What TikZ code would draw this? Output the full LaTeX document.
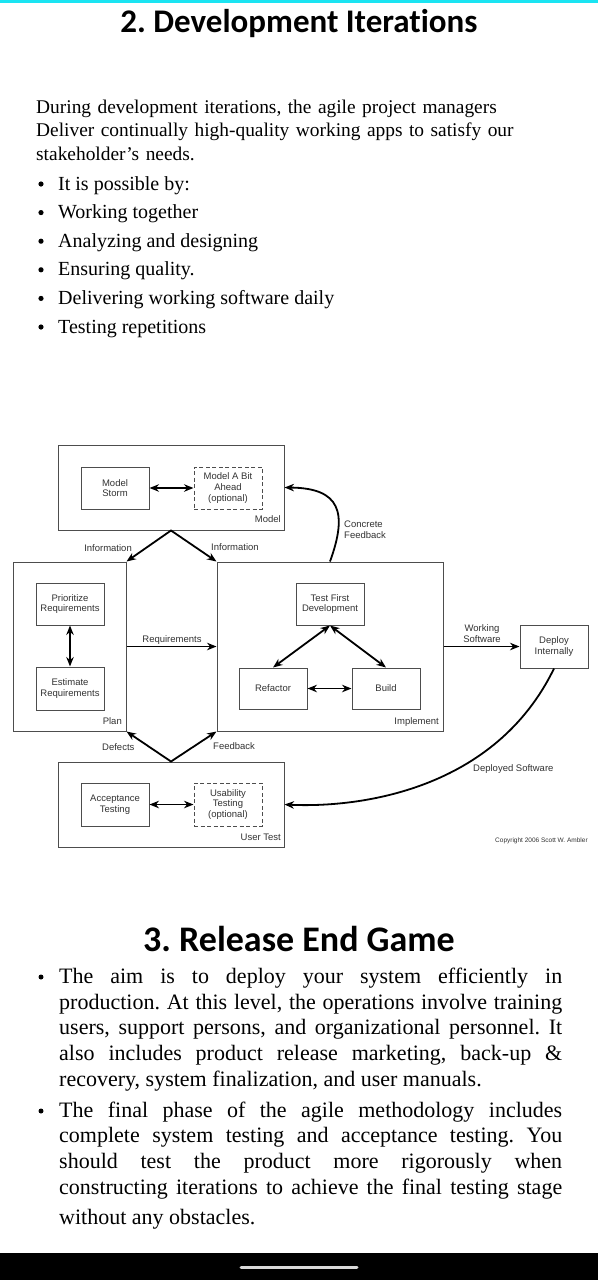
\documentclass[tikz,border=0pt]{standalone}
\usepackage{fontspec}
\setmainfont{Liberation Serif}
\newfontfamily\headfont{Carlito}[Ligatures=NoCommon]
\newfontfamily\chartfont{Liberation Sans}
\usetikzlibrary{calc, arrows.meta}

\definecolor{screencyan}{HTML}{1AE4F2}
\definecolor{linegray}{HTML}{4D4D4D}
\definecolor{labelgray}{HTML}{333333}

\hyphenpenalty=10000
\exhyphenpenalty=10000
\tolerance=9999
\hbadness=10000
\frenchspacing

\begin{document}
\begin{tikzpicture}[x=1pt, y=1pt, >={Stealth[length=9.5pt, width=7.5pt]},
		stage/.style={draw=linegray, line width=1pt, inner sep=0pt},
		task/.style={draw=linegray, line width=1pt, minimum width=68pt, minimum height=42pt, inner sep=1pt, align=center, text=labelgray, font=\chartfont\fontsize{9.5}{10.7}\selectfont},
		optional/.style={task, dash pattern=on 4pt off 2.5pt},
		tag/.style={inner sep=0pt, text=labelgray, font=\chartfont\fontsize{9.5}{10.7}\selectfont},
		flow/.style={line width=1.8pt, ->},
		swap/.style={line width=1.8pt, <->},
		body/.style={inner sep=0pt, anchor=base west, font=\fontsize{20}{23.5}\selectfont},
		para/.style={inner sep=0pt, anchor=base west, text width=503pt, align=justify, font=\fontsize{22}{25.7}\selectfont},
		heading/.style={inner sep=0pt, anchor=base, font=\headfont\bfseries\fontsize{33}{38}\selectfont},
	]
	\def\rowstep{28.6}

	\useasboundingbox (0,0) rectangle (598,-1280);
	\fill[white] (0,0) rectangle (598,-1280);
	\fill[screencyan] (0,0) rectangle (598,-2.7);

	\node[heading] (title1) at (299,-32.3) {2. Development Iterations};

	\node[body, text width=540pt, align=left, font=\fontsize{19.4}{23.5}\selectfont] (intro) at (36,-113.3)
		{During development iterations, the agile project managers\\Deliver continually high-quality working apps to satisfy our\\stakeholder’s needs.};

	\foreach \txt [count=\i] in {It is possible by:, Working together, Analyzing and designing, Ensuring quality., Delivering working software daily, Testing repetitions}
	{
		\fill (41,{-184-\rowstep*(\i-1)}) circle (2.6pt);
		\node[body] (point\i) at (58,{-190-\rowstep*(\i-1)}) {\txt};
	}

	\begin{scope}
		\node[stage, minimum width=226pt, minimum height=85pt] (model) at (171,-487.5) {};
		\node[stage, minimum width=113pt, minimum height=169pt] (plan) at (69.5,-646.5) {};
		\node[stage, minimum width=226pt, minimum height=169pt] (implement) at (330,-646.5) {};
		\node[stage, minimum width=226pt, minimum height=85pt] (usertest) at (171,-804.5) {};
		\node[task, minimum height=43pt] (deploy) at (554,-646.5) {Deploy\\Internally};
	\end{scope}

	\begin{scope}
		\node[task] (storm) at (115,-488) {Model\\Storm};
		\node[optional] (ahead) at (228,-488) {Model A Bit\\Ahead\\(optional)};
		\node[task] (prioritize) at (70,-604) {Prioritize\\Requirements};
		\node[task, minimum height=43pt] (estimate) at (70,-688.5) {Estimate\\Requirements};
		\node[task] (testfirst) at (330,-604) {Test First\\Development};
		\node[task, minimum height=41pt] (refactor) at (273,-688.5) {Refactor};
		\node[task, minimum height=41pt] (build) at (386,-688.5) {Build};
		\node[task, minimum height=43pt] (acceptance) at (115,-804.5) {Acceptance\\Testing};
		\node[optional, minimum height=43pt] (usability) at (228,-804.5) {Usability\\Testing\\(optional)};
	\end{scope}

	\begin{scope}
		\node[tag, anchor=base east] (modeltag) at (281,-522) {Model};
		\node[tag, anchor=base east] (plantag) at (122,-724.5) {Plan};
		\node[tag, anchor=base east] (implementtag) at (439,-724.5) {Implement};
		\node[tag, anchor=base east] (usertesttag) at (281,-840) {User Test};
		\node[tag, anchor=base east] (info1) at (132,-551.5) {Information};
		\node[tag, anchor=base west] (info2) at (211,-550.5) {Information};
		\node[tag, anchor=base] (reqtag) at (172,-642) {Requirements};
		\node[tag, align=center] (worktag) at (482,-633.5) {Working\\Software};
		\node[tag, align=left, anchor=north west] (concrete) at (344,-520.5) {Concrete\\Feedback};
		\node[tag, anchor=base west] (defects) at (102,-750) {Defects};
		\node[tag, anchor=base west] (feedback) at (213,-749.5) {Feedback};
		\node[tag, anchor=base west] (deployed) at (473,-771) {Deployed Software};
		\node[tag, anchor=base west, font=\chartfont\fontsize{6.5}{7}\selectfont] (copyright) at (495,-842) {Copyright 2006 Scott W. Ambler};
	\end{scope}

	\begin{scope}[swap]
		\draw (storm) -- (ahead);
		\draw (prioritize) -- (estimate);
		\draw (testfirst.south) -- (refactor.north);
		\draw (testfirst.south) -- (build.north);
		\draw (refactor) -- (build);
		\draw (acceptance) -- (usability);
		\draw (plan.north east) -- (model.south) -- (implement.north west);
		\draw (plan.south east) -- (usertest.north) -- (implement.south west);
	\end{scope}

	\begin{scope}[flow]
		\draw (plan) -- (implement);
		\draw (implement) -- (deploy);
		\draw (implement.north) .. controls (348,-512) and (340,-488) .. (model.east);
		\draw (deploy.south) .. controls (495,-790) and (360,-808) .. (usertest.east);
	\end{scope}

	\node[heading, font=\headfont\bfseries\fontsize{36}{40}\selectfont] (title2) at (299,-951.7) {3. Release End Game};

	\fill (41,-977) circle (2.5pt);
	\node[para] (aim) at (59,-983.3)
		{The aim is to deploy your system efficiently in\linebreak production. At this level, the operations involve training\linebreak users, support persons, and organizational personnel. It\linebreak also includes product release marketing, back-up \&\linebreak recovery, system finalization, and user manuals.};

	\fill (41,-1111) circle (2.5pt);
	\node[para] (final) at (59,-1117)
		{The final phase of the agile methodology includes\linebreak complete system testing and acceptance testing. You\linebreak should test the product more rigorously when\linebreak constructing iterations to achieve the final testing stage\vadjust{\vskip5pt}\linebreak without any obstacles.};

	\fill[black] (0,-1253) rectangle (598,-1280);
	\draw[white!85!black, line width=3pt, line cap=round] (241,-1267.5) -- (357,-1267.5);
\end{tikzpicture}
\end{document}
